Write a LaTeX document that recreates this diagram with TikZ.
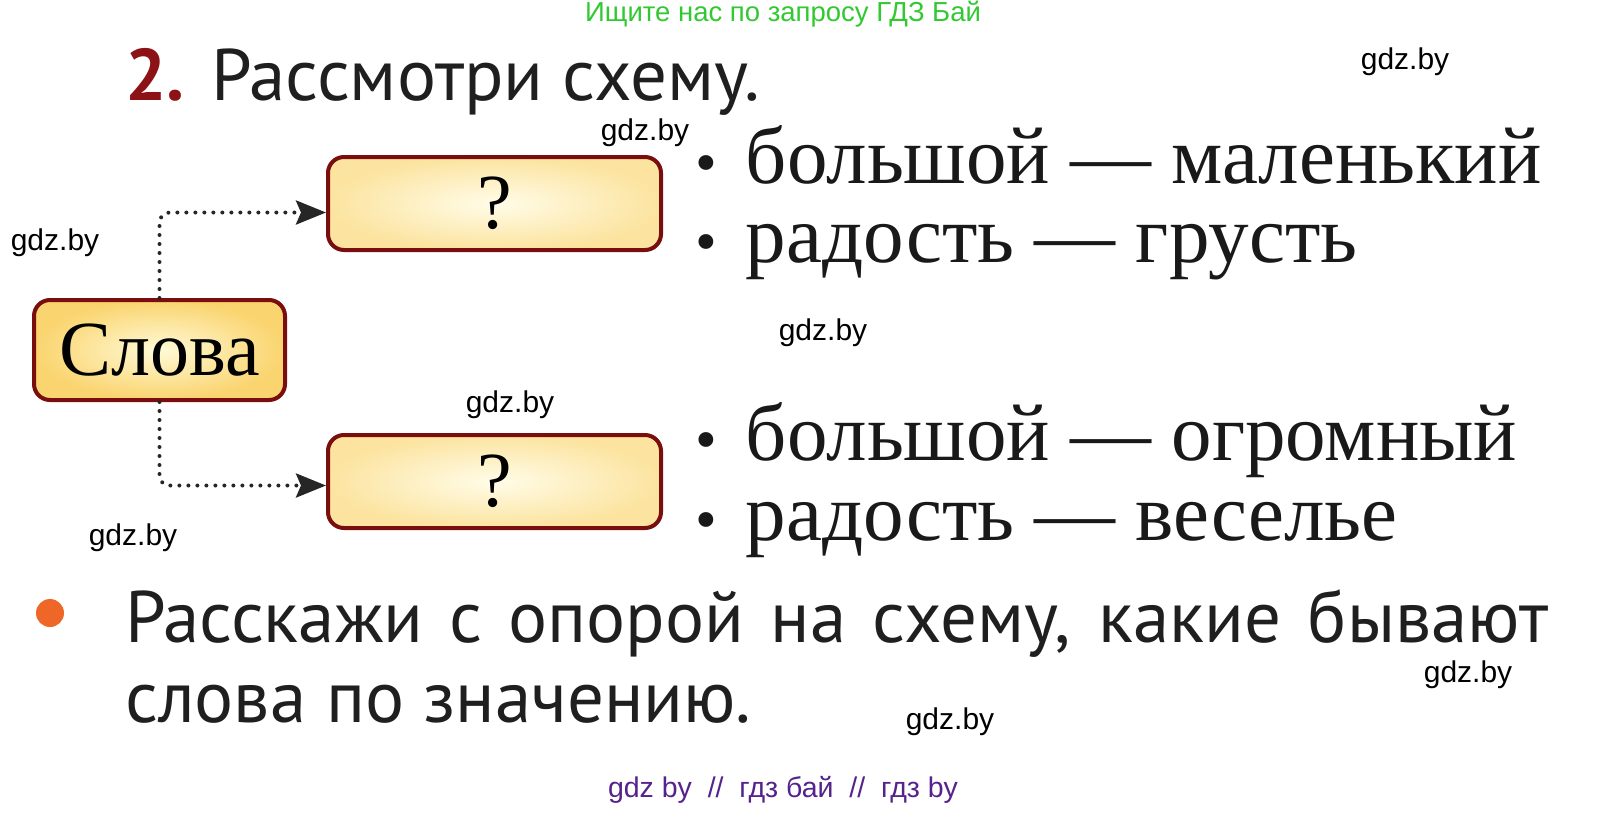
\documentclass[tikz,border=0pt]{standalone}
\usepackage{fontspec}
\setmainfont{Liberation Serif}
\newfontfamily\headfont{PT Sans}
\newfontfamily\wmfont{Liberation Sans}
\usetikzlibrary{arrows.meta}
\definecolor{boxred}{RGB}{122,14,14}
\definecolor{numred}{RGB}{140,18,22}
\definecolor{boxin}{RGB}{255,250,215}
\definecolor{boxout}{RGB}{250,212,110}
\definecolor{askin}{RGB}{255,252,232}
\definecolor{askout}{RGB}{252,228,160}
\definecolor{dotorange}{RGB}{238,102,40}
\definecolor{wmgreen}{RGB}{50,200,50}
\definecolor{wmpurple}{RGB}{85,35,140}
\newcommand\pairdot{{\fontsize{62}{62}\selectfont•}\hspace{29pt}}
\tikzset{
  wordbox/.style={draw=boxred, line width=4pt, rounded corners=16pt, inner color=boxin, outer color=boxout, minimum width=251pt, minimum height=100pt, font=\fontsize{78}{80}\selectfont},
  askbox/.style={wordbox, inner color=askin, outer color=askout, minimum width=333pt, minimum height=93pt},
  link/.style={draw=black!85, line width=4pt, line cap=round, dash pattern=on 0pt off 9pt, rounded corners=10pt, -{Stealth[length=30pt,width=24pt,inset=5pt]}},
  pair/.style={anchor=base west, inner sep=0pt, text=black!90, font=\fontsize{81}{90}\selectfont},
  head/.style={anchor=base west, inner sep=0pt, text depth=0pt, text=black!88, font=\headfont\fontsize{73}{80}\selectfont},
  wm/.style={inner sep=0pt, font=\wmfont\fontsize{30}{32}\selectfont}
}
\begin{document}
\begin{tikzpicture}[x=1pt, y=-1pt, line join=round]
\useasboundingbox (0,0) rectangle (1598,825);
\node[wm, text=wmgreen, font=\wmfont\fontsize{27.5}{29}\selectfont] (top) at (783,14) {Ищите нас по запросу ГДЗ Бай};
\node[head, text=numred, font=\headfont\bfseries\fontsize{73}{80}\selectfont] (num) at (125,100) {2.};
\node[head] (title) at (211,100) {Рассмотри схему.};
\node[wordbox] (words) at (159.5,350) {Слова};
\node[askbox] (ask1) at (494.5,203.5) {?};
\node[askbox] (ask2) at (494.5,481.5) {?};
\draw[link] (words.north) |- ([yshift=-9pt]ask1.west);
\draw[link] (words.south) |- ([yshift=-4pt]ask2.west);
\node[pair] (p1) at (695,183) {\pairdot большой — маленький};
\node[pair] (p2) at (695,262) {\pairdot радость — грусть};
\node[pair] (p3) at (695,460) {\pairdot большой — огромный};
\node[pair] (p4) at (695,540) {\pairdot радость — веселье};
\node[circle, fill=dotorange, inner sep=0pt, minimum size=28pt] (dot) at (50,613) {};
\node[head] (task1) at (125,642) {\makebox[1423pt][s]{Расскажи с опорой на схему, какие бывают}};
\node[head] (task2) at (125,722) {слова по значению.};
\node[wm] (w1) at (1405,62) {gdz.by};
\node[wm] (w2) at (645,133) {gdz.by};
\node[wm] (w3) at (55,243) {gdz.by};
\node[wm] (w4) at (823,333) {gdz.by};
\node[wm] (w5) at (510,405) {gdz.by};
\node[wm] (w6) at (133,538) {gdz.by};
\node[wm] (w7) at (1468,675) {gdz.by};
\node[wm] (w8) at (950,722) {gdz.by};
\node[wm, text=wmpurple, font=\wmfont\fontsize{28.5}{30}\selectfont] (foot) at (783,790) {gdz by~~//~~гдз бай~~//~~гдз by};
\end{tikzpicture}
\end{document}
